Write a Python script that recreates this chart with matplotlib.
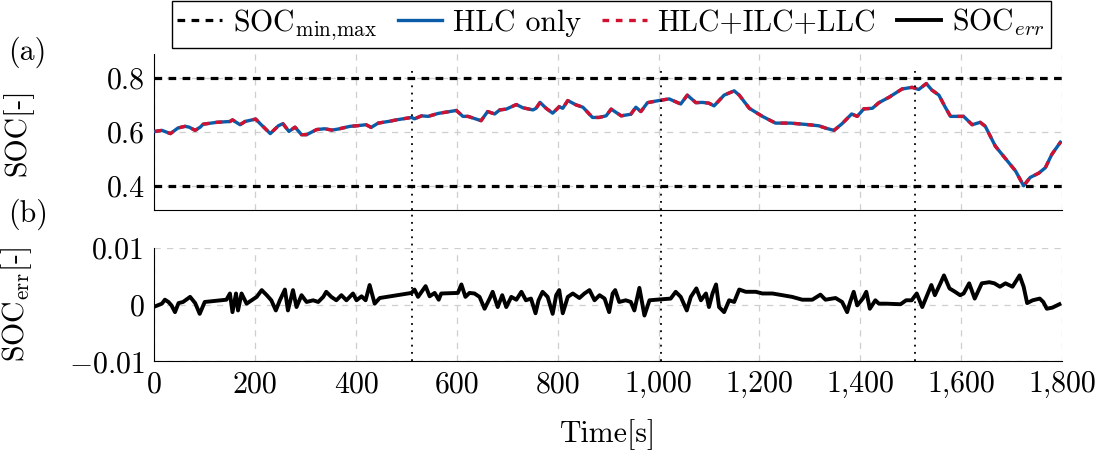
import numpy as np
import matplotlib
matplotlib.use("Agg")
import matplotlib.pyplot as plt
from matplotlib.ticker import FuncFormatter

plt.rcParams['font.family'] = 'serif'
plt.rcParams['font.serif'] = ['cmr10', 'DejaVu Serif']
plt.rcParams['mathtext.fontset'] = 'cm'
plt.rcParams['axes.formatter.use_mathtext'] = True
plt.rcParams['font.size'] = 21.5

# SOC trajectory
soc_t = [1, 15, 32, 47, 61, 69, 81, 91, 97, 124, 150, 155, 170, 180, 201, 212, 230, 246,
         255, 267, 279, 292, 302, 322, 338, 352, 365, 388, 401, 420, 430, 444, 467, 480,
         510, 516, 530, 543, 563, 599, 612, 622, 648, 661, 675, 685, 698, 718, 731, 751,
         757, 765, 777, 790, 803, 810, 820, 836, 850, 869, 882, 896, 906, 926, 945, 955,
         965, 978, 1001, 1021, 1044, 1057, 1074, 1087, 1100, 1110, 1130, 1150, 1160, 1180,
         1206, 1232, 1262, 1298, 1318, 1332, 1348, 1364, 1383, 1394, 1407, 1424, 1437,
         1457, 1483, 1503, 1516, 1531, 1542, 1556, 1568, 1579, 1605, 1622, 1638, 1648,
         1668, 1688, 1708, 1724, 1737, 1754, 1767, 1780, 1797]
soc_val = [0.602, 0.606, 0.594, 0.615, 0.621, 0.618, 0.606, 0.618, 0.629, 0.636, 0.639,
           0.645, 0.627, 0.639, 0.648, 0.627, 0.594, 0.623, 0.631, 0.602, 0.618, 0.590,
           0.590, 0.609, 0.612, 0.607, 0.611, 0.621, 0.623, 0.627, 0.617, 0.633, 0.640,
           0.645, 0.654, 0.649, 0.660, 0.658, 0.669, 0.680, 0.658, 0.658, 0.642, 0.676,
           0.667, 0.682, 0.685, 0.702, 0.690, 0.682, 0.688, 0.710, 0.688, 0.670, 0.694,
           0.688, 0.717, 0.701, 0.692, 0.654, 0.654, 0.660, 0.685, 0.660, 0.666, 0.692,
           0.676, 0.709, 0.717, 0.723, 0.704, 0.737, 0.709, 0.710, 0.707, 0.697, 0.737,
           0.753, 0.737, 0.688, 0.658, 0.633, 0.633, 0.627, 0.623, 0.614, 0.606, 0.631,
           0.667, 0.658, 0.686, 0.688, 0.709, 0.729, 0.760, 0.766, 0.758, 0.780, 0.756,
           0.737, 0.694, 0.658, 0.658, 0.627, 0.636, 0.621, 0.547, 0.501, 0.455, 0.400,
           0.431, 0.447, 0.467, 0.517, 0.562]

# SOC error between both controllers
err_t = [1, 15, 21, 28, 34, 41, 48, 57, 71, 81, 90, 100, 143, 150, 155, 162, 166, 173,
         183, 193, 203, 213, 223, 232, 241, 249, 259, 265, 275, 282, 292, 302, 315, 325,
         335, 341, 351, 361, 371, 381, 394, 401, 411, 419, 427, 437, 447, 510, 516, 523,
         538, 546, 556, 564, 569, 602, 609, 617, 625, 635, 645, 655, 665, 671, 681, 690,
         698, 708, 718, 728, 737, 747, 756, 762, 770, 780, 790, 797, 803, 810, 820, 830,
         843, 853, 863, 873, 883, 893, 902, 909, 914, 922, 935, 945, 952, 962, 972, 982,
         1024, 1034, 1044, 1056, 1064, 1075, 1084, 1094, 1100, 1107, 1114, 1120, 1130,
         1140, 1150, 1160, 1173, 1193, 1206, 1226, 1246, 1265, 1285, 1305, 1321, 1331,
         1351, 1364, 1374, 1380, 1387, 1394, 1405, 1412, 1419, 1430, 1437, 1451, 1480,
         1491, 1502, 1512, 1523, 1534, 1541, 1548, 1559, 1566, 1577, 1588, 1598, 1605,
         1616, 1627, 1641, 1656, 1666, 1677, 1688, 1702, 1716, 1724, 1731, 1742, 1756,
         1763, 1770, 1781, 1795]
err_val = [-0.0003, 0.0002, 0.0009, 0.0005, -0.0001, -0.0013, 0.0003, 0.0005, 0.0014,
           0.0003, -0.0016, 0.0005, 0.0009, 0.0020, -0.0013, 0.0020, -0.0010, 0.0020,
           0.0002, 0.0008, 0.0014, 0.0026, 0.0017, 0.0008, -0.0010, 0.0008, 0.0027,
           -0.0010, 0.0026, -0.0004, 0.0017, 0.0005, 0.0008, 0.0005, 0.0014, 0.0023,
           0.0014, 0.0008, 0.0017, 0.0008, 0.0020, 0.0008, 0.0015, 0.0008, 0.0035,
           0.0002, 0.0012, 0.0021, 0.0027, 0.0014, 0.0033, 0.0015, 0.0021, 0.0009,
           0.0020, 0.0021, 0.0036, 0.0014, 0.0021, 0.0020, 0.0014, -0.0007, 0.0011,
           0.0023, -0.0004, 0.0017, -0.0004, 0.0014, 0.0009, 0.0023, 0.0008, 0.0011,
           -0.0015, 0.0008, 0.0023, 0.0014, -0.0016, 0.0017, 0.0026, -0.0015, 0.0014,
           0.0020, 0.0012, 0.0020, 0.0026, 0.0008, 0.0017, 0.0011, -0.0013, 0.0020,
           0.0026, 0.0005, 0.0008, 0.0005, -0.0010, 0.0030, -0.0019, 0.0008, 0.0011,
           0.0023, 0.0014, -0.0010, 0.0014, 0.0029, 0.0008, 0.0020, -0.0004, 0.0020,
           0.0036, -0.0004, -0.0013, 0.0008, 0.0005, 0.0027, 0.0023, 0.0023, 0.0020,
           0.0020, 0.0017, 0.0014, 0.0009, 0.0009, 0.0018, 0.0009, 0.0012, 0.0005,
           -0.0013, 0.0005, 0.0023, -0.0001, 0.0011, 0.0023, -0.0007, 0.0008, 0.0002,
           0.0002, 0.0001, 0.0008, 0.0008, 0.0020, -0.0004, 0.0020, 0.0035, 0.0017,
           0.0038, 0.0052, 0.0029, 0.0023, 0.0017, 0.0020, 0.0038, 0.0011, 0.0038,
           0.0040, 0.0038, 0.0032, 0.0038, 0.0032, 0.0052, 0.0032, 0.0003, 0.0008,
           0.0011, 0.0005, -0.0007, -0.0005, 0.0001]

soc_limits = [0.4, 0.8]
event_times = [512, 1005, 1508]
x_ticks = [0, 200, 400, 600, 800, 1000, 1200, 1400, 1600, 1800]

blue = '#0a5ca8'
red = '#d2102f'
grid_kw = dict(color='#cfcfcf', linestyle=(0, (5, 5)), linewidth=0.9)

fig = plt.figure(figsize=(11.07, 4.57), dpi=100)
ax1 = fig.add_axes([0.1394, 0.5405, 0.8199, 0.3414])
ax2 = fig.add_axes([0.1394, 0.2094, 0.8199, 0.2473])

for ax in (ax1, ax2):
    ax.set_xlim(0, 1800)
    ax.set_xticks(x_ticks)
    ax.spines['top'].set_visible(False)
    ax.spines['right'].set_visible(False)
    ax.grid(True, **grid_kw)
    ax.set_axisbelow(True)
    ax.tick_params(length=0, pad=7)

# top: SOC
for lim in soc_limits:
    ax1.axhline(lim, color='black', linewidth=2.3, dashes=(2.4, 2.0), zorder=3,
                label='SOC$_{\\mathrm{min{,}max}}$' if lim == soc_limits[0] else None)
ax1.plot(soc_t, soc_val, color=blue, linewidth=2.4, label='HLC only', zorder=4)
ax1.plot(soc_t, soc_val, color=red, linewidth=2.4, dashes=(2.0, 2.0),
         label='HLC+ILC+LLC', zorder=5)
ax1.set_ylim(0.31, 0.89)
ax1.set_yticks([0.4, 0.6, 0.8])
ax1.yaxis.set_major_formatter(FuncFormatter(lambda v, p: f"{v:.1f}"))
ax1.tick_params(labelbottom=False)
ax1.set_ylabel('SOC[-]')

# bottom: error
ax2.plot(err_t, err_val, color='black', linewidth=2.8, label='SOC$_{err}$', zorder=4)
ax2.set_ylim(-0.01, 0.01)
ax2.set_yticks([-0.01, 0, 0.01])
ax2.yaxis.set_major_formatter(FuncFormatter(
    lambda v, p: '0' if abs(v) < 1e-12 else ('$-$' if v < 0 else '') + f"{abs(v):.2f}"))
ax2.xaxis.set_major_formatter(FuncFormatter(lambda v, p: f"{int(v):,}"))
ax2.set_xlabel('Time[s]', labelpad=15)
ax2.set_ylabel('SOC$_{\\mathrm{err}}$[-]')

# event markers spanning both panels
for et in event_times:
    ax1.axvline(et, ymin=0, ymax=0.90, color='black', linewidth=1.3,
                linestyle=(0, (1, 3)), zorder=6, clip_on=False)
    ax2.axvline(et, ymin=0, ymax=1.34, color='black', linewidth=1.3,
                linestyle=(0, (1, 3)), zorder=6, clip_on=False)

ax1.yaxis.set_label_coords(-0.133, 0.5)
ax2.yaxis.set_label_coords(-0.133, 0.5)
fig.text(0.007, 0.885, '(a)', va='center')
fig.text(0.007, 0.530, '(b)', va='center')

h1, l1 = ax1.get_legend_handles_labels()
h2, l2 = ax2.get_legend_handles_labels()
fig.legend(h1 + h2, l1 + l2, loc='center', bbox_to_anchor=(0.552, 0.947), ncol=4,
           frameon=True, fancybox=False, edgecolor='black', framealpha=1,
           handlelength=1.5, handletextpad=0.35, columnspacing=0.7,
           borderpad=0.2, borderaxespad=0)

fig.savefig('out.png', dpi=100)
